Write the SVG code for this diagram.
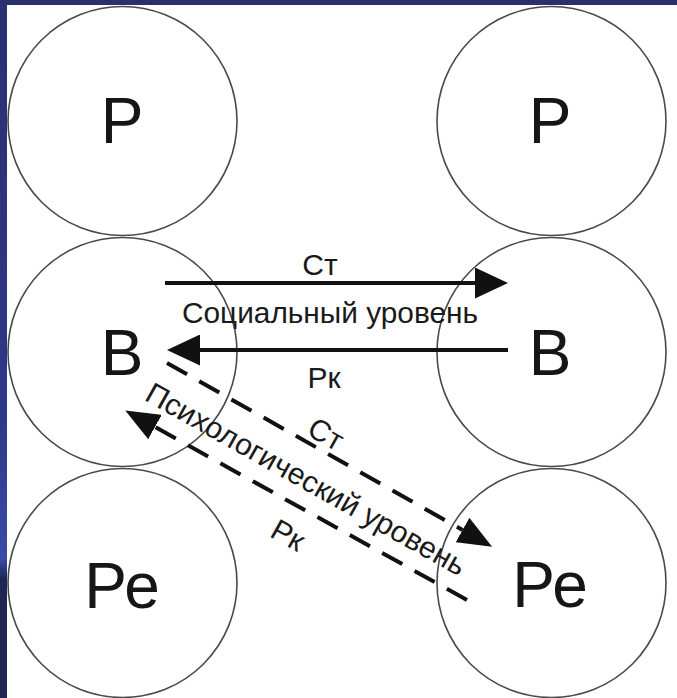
<svg xmlns="http://www.w3.org/2000/svg" width="677" height="698" viewBox="0 0 677 698">
  <style>
    .node { fill: #ffffff; stroke: #4a4a4a; stroke-width: 1.6; }
    .big { font-family: "Liberation Sans", Arial, sans-serif; font-size: 64px; fill: #161616; text-anchor: middle; }
    .lbl { font-family: "Liberation Sans", Arial, sans-serif; font-size: 30px; fill: #1a1a1a; text-anchor: middle; }
    .solid { stroke: #111; stroke-width: 4; fill: none; }
    .dash { stroke: #111; stroke-width: 4; fill: none; stroke-dasharray: 23 14; }
  </style>
  <defs>
    <linearGradient id="leftStrip" x1="0" y1="0" x2="0" y2="1">
      <stop offset="0" stop-color="#2a3070"/>
      <stop offset="0.6" stop-color="#2e3888"/>
      <stop offset="0.8" stop-color="#3a4ba6"/>
      <stop offset="0.83" stop-color="#1f2652"/>
      <stop offset="1" stop-color="#1f2652"/>
    </linearGradient>
    <marker id="headSolid" markerUnits="userSpaceOnUse" markerWidth="33" markerHeight="31" viewBox="0 0 33 31" refX="0" refY="15.5" orient="auto">
      <path d="M0,0 L33,15.5 L0,31 Z" fill="#111"/>
    </marker>
    <marker id="headDash" markerUnits="userSpaceOnUse" markerWidth="34" markerHeight="28" viewBox="0 0 34 28" refX="0" refY="14" orient="auto">
      <path d="M0,0 L34,14 L0,28 Z" fill="#111"/>
    </marker>
  </defs>

  <rect x="0" y="0" width="677" height="698" fill="#ffffff"/>
  <rect x="0" y="0" width="677" height="5" fill="#2a306b"/>
  <rect x="0" y="0" width="7" height="698" fill="url(#leftStrip)"/>

  <g id="node-P-left">
    <circle class="node" cx="122.5" cy="121" r="114.5"/>
    <text class="big" x="122" y="143">Р</text>
  </g>
  <g id="node-P-right">
    <circle class="node" cx="551.5" cy="121" r="114.5"/>
    <text class="big" x="550" y="143">Р</text>
  </g>
  <g id="node-B-left">
    <circle class="node" cx="122.5" cy="352" r="114.5"/>
    <text class="big" x="122" y="375">В</text>
  </g>
  <g id="node-B-right">
    <circle class="node" cx="551.5" cy="352" r="114.5"/>
    <text class="big" x="550" y="375">В</text>
  </g>
  <g id="node-Pe-left">
    <circle class="node" cx="122.5" cy="583" r="114.5"/>
    <text class="big" x="122" y="608">Ре</text>
  </g>
  <g id="node-Pe-right">
    <circle class="node" cx="551.5" cy="583" r="114.5"/>
    <text class="big" x="550" y="607">Ре</text>
  </g>

  <g id="connectors">
    <line class="solid" x1="165" y1="283" x2="475" y2="283" marker-end="url(#headSolid)"/>
    <line class="solid" x1="508" y1="350" x2="200" y2="350" marker-end="url(#headSolid)"/>
    <line class="dash" x1="167" y1="363" x2="462.5" y2="530" marker-end="url(#headDash)"/>
    <line class="dash" x1="467" y1="600" x2="155" y2="427" marker-end="url(#headDash)"/>
  </g>

  <g id="labels">
    <text class="lbl" x="320" y="275">Ст</text>
    <text class="lbl" x="330" y="323" textLength="296" lengthAdjust="spacingAndGlyphs">Социальный уровень</text>
    <text class="lbl" x="324" y="388">Рк</text>
    <text class="lbl" transform="translate(321,443) rotate(29.3)">Ст</text>
    <text class="lbl" transform="translate(301,488) rotate(29.3)" textLength="362" lengthAdjust="spacingAndGlyphs">Психологический уровень</text>
    <text class="lbl" transform="translate(283,544) rotate(29.3)">Рк</text>
  </g>
</svg>
